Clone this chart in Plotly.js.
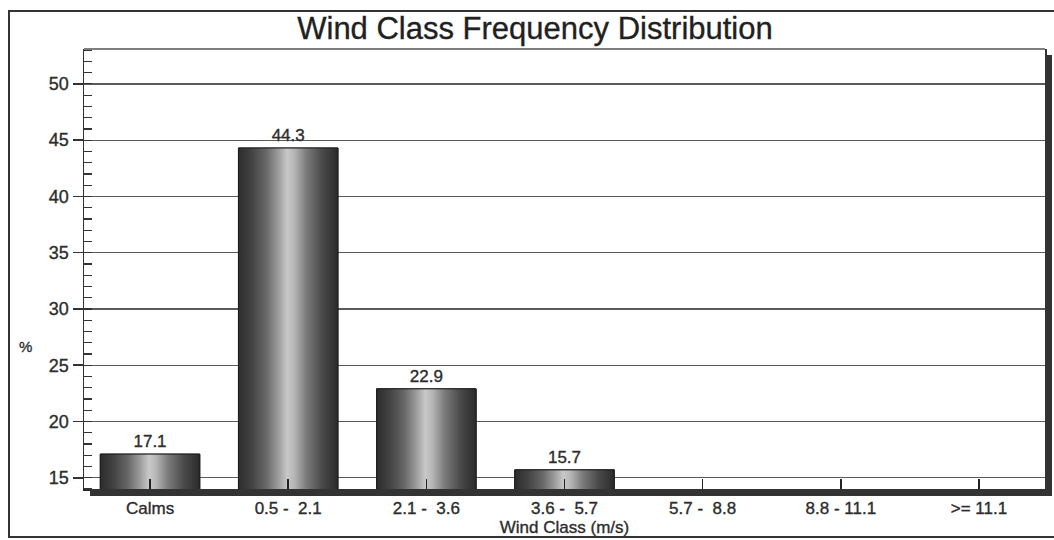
<!DOCTYPE html>
<html>
<head>
<meta charset="utf-8">
<script src="https://cdn.plot.ly/plotly-3.0.1.min.js"></script>
<style>
  html, body { margin: 0; padding: 0; background: #ffffff; }
  #chart { width: 1054px; height: 540px; }
  #chart svg text { stroke: #2a2a2a; stroke-width: 0.35px; }
</style>
</head>
<body>
<div id="chart"></div>
<script>
// ---- Data ----
const categories = ['Calms', '0.5 -\u00a0\u00a02.1', '2.1 -\u00a0\u00a03.6', '3.6 -\u00a0\u00a05.7', '5.7 -\u00a0\u00a08.8', '8.8 - 11.1', '>= 11.1'];
const frequency = [17.1, 44.3, 22.9, 15.7, 0, 0, 0];
const chartTitle = 'Wind Class Frequency Distribution';
const xTitle = 'Wind Class (m/s)';
const yTitle = '%';

// ---- Geometry / style ----
const W = 1054, H = 540;
const M = { l: 84, r: 9, t: 49, b: 51 };
const plotW = W - M.l - M.r, plotH = H - M.t - M.b;
const px = v => (v - M.l) / plotW;          // page x -> paper x
const py = v => (H - M.b - v) / plotH;      // page y -> paper y
const barWidth = 0.72;
const FONT = 'Liberation Sans, Arial, sans-serif';
const cylinder = [
  [0.00, '#2c2c2c'], [0.14, '#444444'], [0.28, '#686868'], [0.40, '#9c9c9c'],
  [0.49, '#c8c8c8'], [0.56, '#b6b6b6'], [0.68, '#7c7c7c'], [0.84, '#4a4a4a'],
  [1.00, '#2a2a2a']
];

const idx = categories.map((_, i) => i);

const traces = [{
  type: 'bar',
  x: idx,
  y: frequency,
  width: barWidth,
  marker: { color: '#3a3a3a', line: { color: '#1e1e1e', width: 1 } },
  text: frequency.map(v => v > 0 ? v.toFixed(1) : ''),
  textposition: 'outside',
  cliponaxis: false,
  textfont: { family: FONT, size: 17, color: '#2e2e2e' },
  hoverinfo: 'x+y',
  showlegend: false
}];

// cylindrical shading overlay for each bar, placed on the same axes
frequency.forEach((v, i) => {
  if (v <= 0) return;
  const a = i - barWidth / 2, b = i + barWidth / 2;
  traces.push({
    type: 'scatter',
    mode: 'lines',
    x: [a, b, b, a, a],
    y: [0, 0, v, v, 0],
    fill: 'toself',
    fillgradient: { type: 'horizontal', colorscale: cylinder },
    line: { color: '#1e1e1e', width: 1 },
    hoverinfo: 'skip',
    showlegend: false
  });
});

const layout = {
  width: W, height: H,
  margin: M,
  paper_bgcolor: '#ffffff',
  plot_bgcolor: '#ffffff',
  showlegend: false,
  font: { family: FONT, color: '#2e2e2e' },
  title: {
    text: chartTitle,
    font: { family: FONT, size: 31, color: '#202020' },
    xref: 'container', x: 535 / W, xanchor: 'center',
    yref: 'container', y: 1 - 28 / H, yanchor: 'middle'
  },
  xaxis: {
    range: [-0.478, 6.478],
    tickvals: idx,
    ticktext: categories,
    ticks: 'inside', ticklen: 10, tickwidth: 1.5, tickcolor: '#222222',
    tickfont: { family: FONT, size: 17, color: '#2e2e2e' },
    ticklabelstandoff: 3,
    showline: true, linecolor: '#222222', linewidth: 2,
    showgrid: false, zeroline: false, fixedrange: true,
    title: { text: xTitle, font: { family: FONT, size: 17, color: '#2e2e2e' }, standoff: 0 }
  },
  yaxis: {
    range: [14, 53.1],
    tick0: 0, dtick: 5,
    ticks: 'outside', ticklen: 10, tickwidth: 1.5, tickcolor: '#333333',
    tickfont: { family: FONT, size: 18, color: '#2e2e2e' },
    minor: { tick0: 0, dtick: 1, ticks: 'inside', ticklen: 8, tickwidth: 1.2, tickcolor: '#333333', showgrid: false },
    showline: true, mirror: true, linecolor: '#333333', linewidth: 1.5,
    showgrid: true, gridcolor: '#5a5a5a', gridwidth: 1.3,
    zeroline: false, fixedrange: true
  },
  annotations: [{
    text: yTitle, xref: 'paper', yref: 'paper',
    x: px(25), y: py(346), xanchor: 'center', yanchor: 'middle',
    showarrow: false, font: { family: FONT, size: 15, color: '#333333' }
  }],
  shapes: [
    // outer frame
    { type: 'rect', xref: 'paper', yref: 'paper', x0: px(9), x1: px(1060), y0: py(537), y1: py(11),
      line: { color: '#333333', width: 2 }, fillcolor: 'rgba(0,0,0,0)', layer: 'below' },
    // plot area top border
    { type: 'line', xref: 'paper', yref: 'paper', x0: 0, x1: 1, y0: 1, y1: 1,
      line: { color: '#555555', width: 1.5 } },
    // right drop shadow
    { type: 'rect', xref: 'paper', yref: 'paper', x0: 1, x1: px(1052), y0: py(496), y1: py(55),
      line: { width: 0 }, fillcolor: '#333333' },
    // bottom drop shadow
    { type: 'rect', xref: 'paper', yref: 'paper', x0: px(90), x1: px(1052), y0: py(496), y1: 0,
      line: { width: 0 }, fillcolor: '#333333' }
  ]
};

Plotly.newPlot('chart', traces, layout, { displayModeBar: false, staticPlot: true });
</script>
</body>
</html>
